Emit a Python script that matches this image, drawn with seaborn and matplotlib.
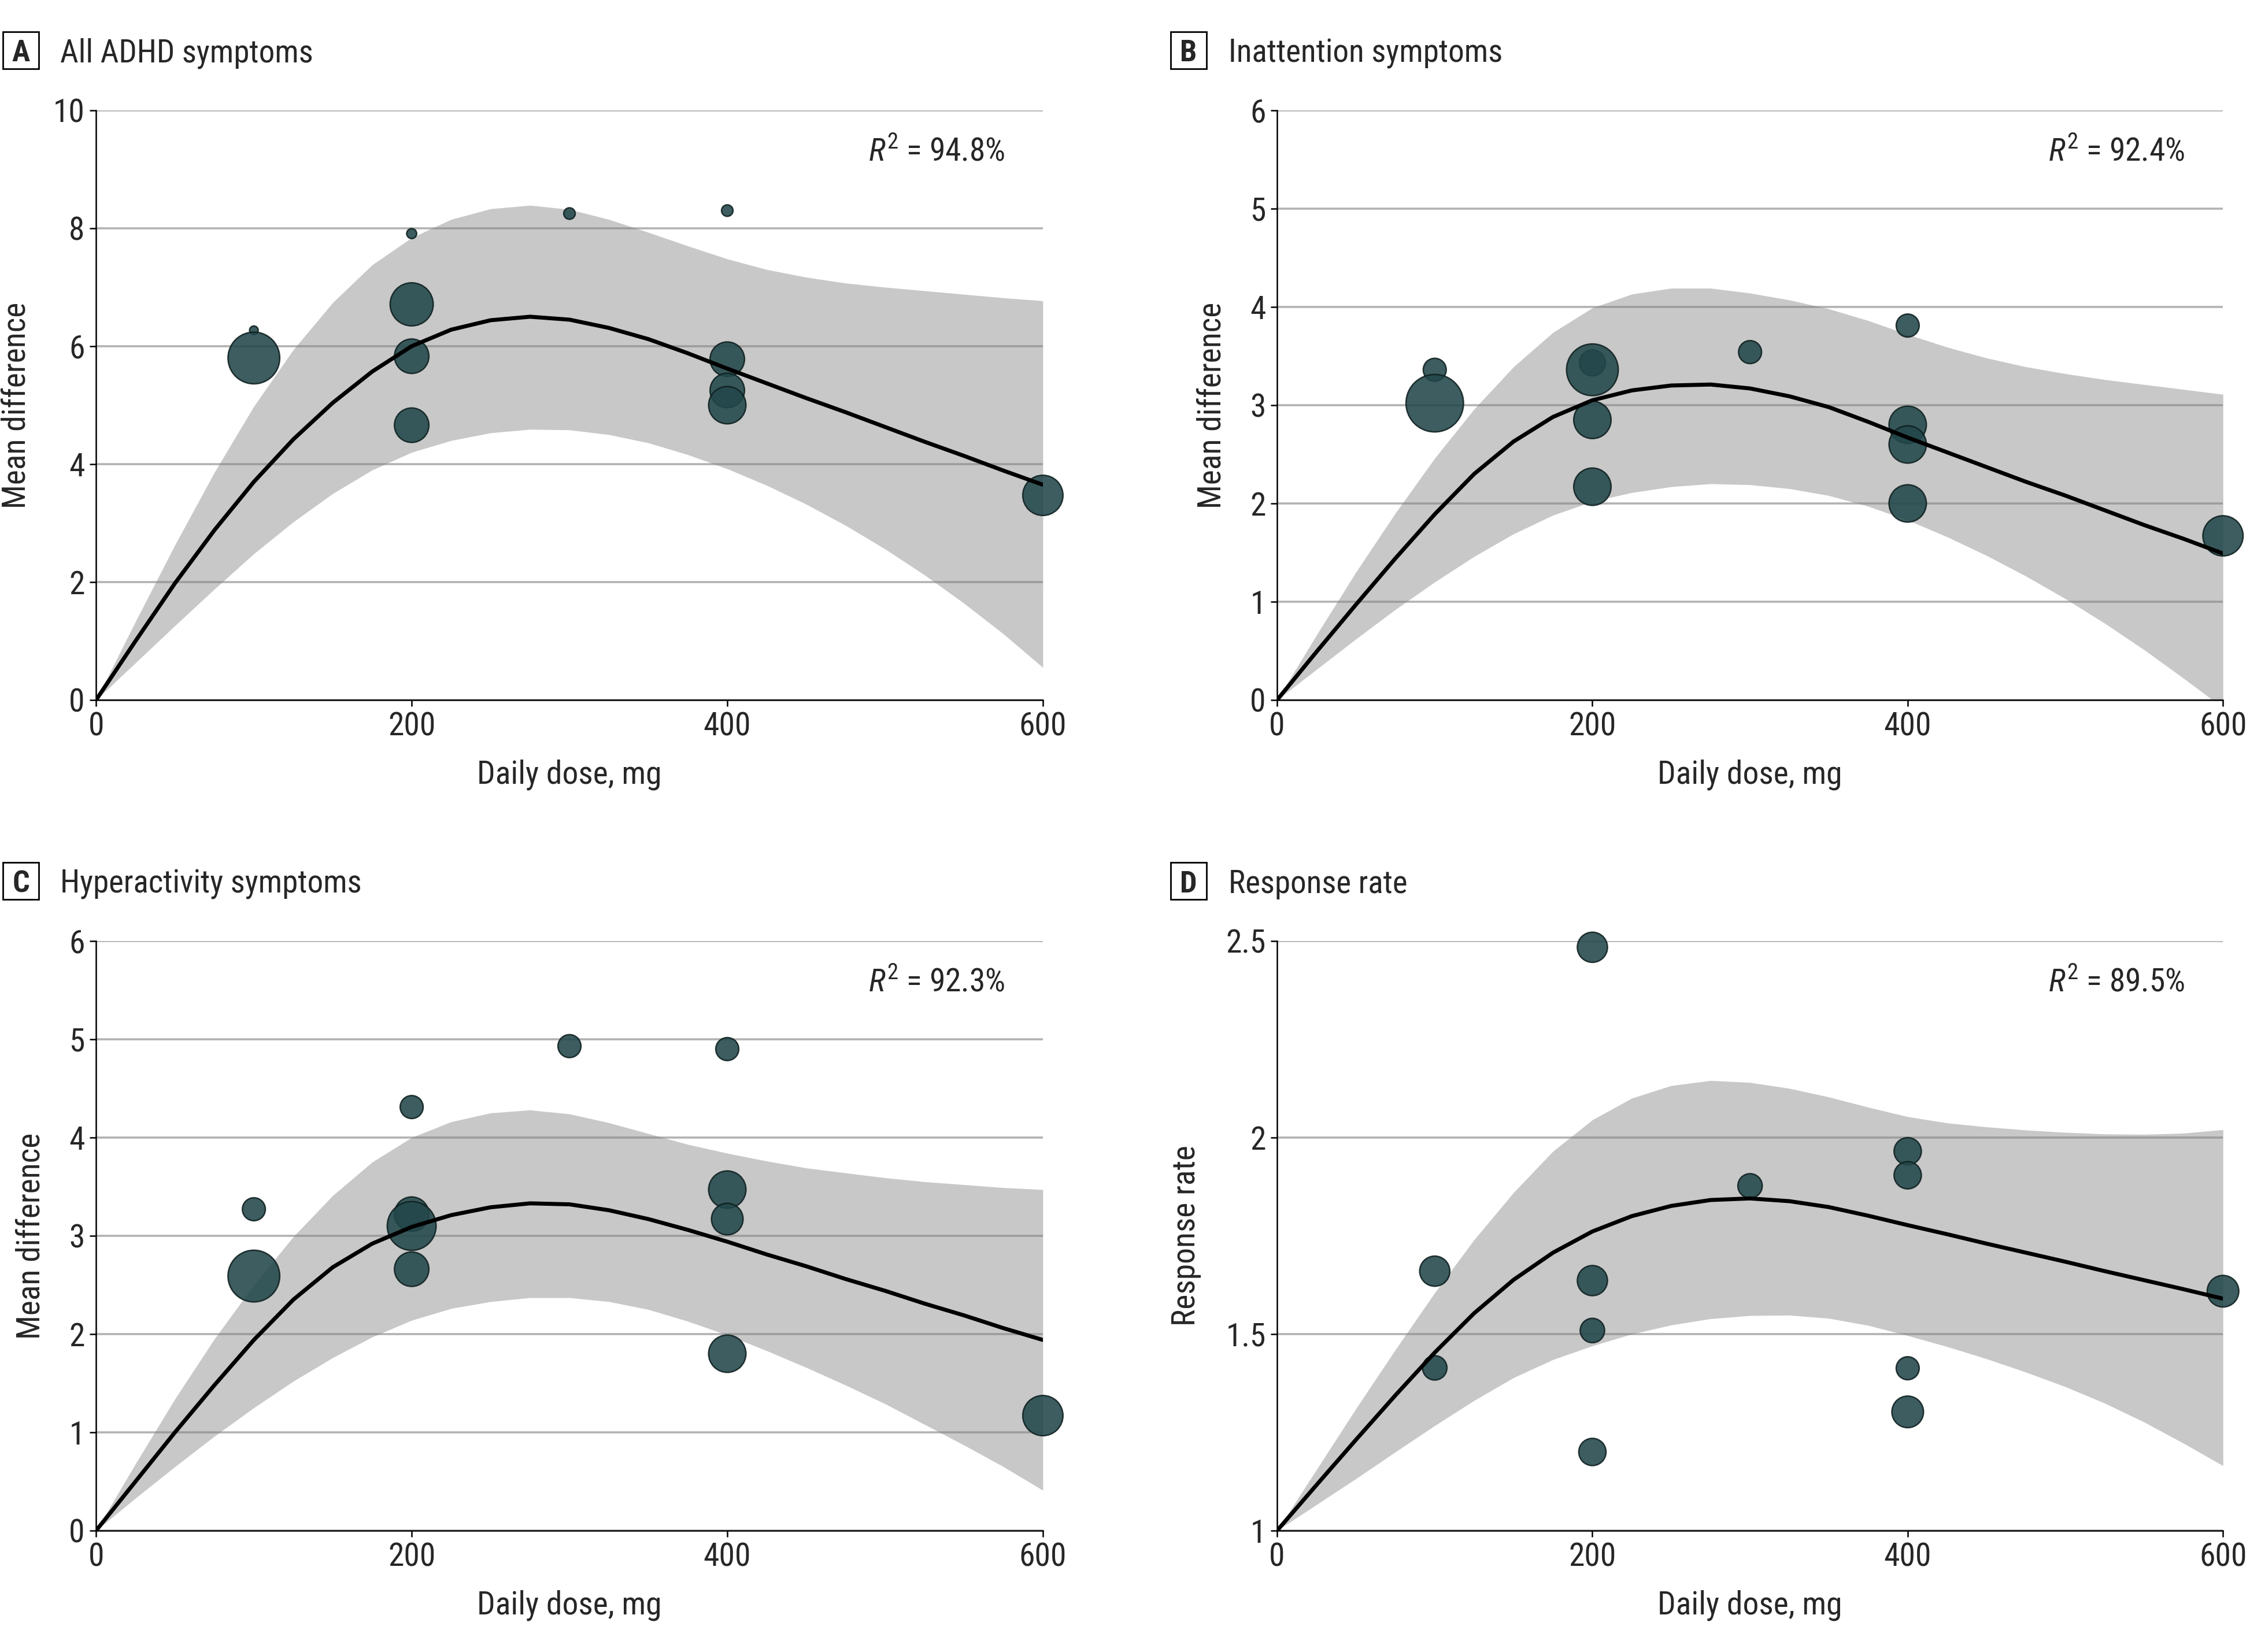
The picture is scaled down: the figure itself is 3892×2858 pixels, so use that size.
import matplotlib
matplotlib.use("Agg")
import matplotlib.pyplot as plt
from matplotlib import font_manager as fm
from matplotlib.patches import Rectangle
import pandas as pd
import seaborn as sns

# dose grid for the fitted curves (mg)
dose_grid = [0, 25, 50, 75, 100, 125, 150, 175, 200, 225, 250, 275, 300,
             325, 350, 375, 400, 425, 450, 475, 500, 525, 550, 575, 600]

# A: all ADHD symptoms
a_dose = [100, 100, 200, 200, 200, 200, 300, 400, 400, 400, 400, 600]
a_val = [6.27, 5.8, 7.91, 6.71, 5.83, 4.66, 8.25, 8.3, 5.78, 5.25, 5.0, 3.47]
a_wt = [9, 324, 12, 225, 144, 144, 16, 16, 144, 144, 169, 196]
a_fit = [0, 1.0, 1.98, 2.88, 3.7, 4.42, 5.04, 5.57, 6.0, 6.28, 6.44, 6.5, 6.45,
         6.31, 6.12, 5.88, 5.62, 5.37, 5.12, 4.88, 4.63, 4.38, 4.14, 3.89, 3.65]
a_hi = [0, 1.33, 2.63, 3.86, 4.98, 5.94, 6.74, 7.38, 7.84, 8.15, 8.33, 8.39, 8.32,
        8.15, 7.93, 7.7, 7.48, 7.3, 7.17, 7.07, 7.0, 6.94, 6.88, 6.82, 6.77]
a_lo = [0, 0.63, 1.26, 1.88, 2.48, 3.02, 3.5, 3.9, 4.2, 4.4, 4.53, 4.59, 4.58,
        4.5, 4.36, 4.16, 3.92, 3.64, 3.32, 2.96, 2.56, 2.12, 1.64, 1.12, 0.55]

# B: inattention symptoms
b_dose = [100, 100, 200, 200, 200, 200, 300, 400, 400, 400, 400, 600]
b_val = [3.36, 3.02, 3.43, 3.36, 2.85, 2.17, 3.54, 3.81, 2.8, 2.6, 2.0, 1.67]
b_wt = [64, 400, 81, 324, 169, 169, 64, 64, 169, 169, 169, 196]
b_fit = [0, 0.49, 0.97, 1.44, 1.89, 2.3, 2.63, 2.88, 3.05, 3.15, 3.2, 3.21, 3.17,
         3.09, 2.98, 2.83, 2.67, 2.52, 2.37, 2.22, 2.08, 1.93, 1.78, 1.64, 1.49]
b_hi = [0, 0.66, 1.3, 1.9, 2.46, 2.96, 3.39, 3.74, 3.99, 4.13, 4.19, 4.19, 4.14,
        4.07, 3.98, 3.86, 3.72, 3.59, 3.48, 3.39, 3.32, 3.26, 3.21, 3.16, 3.11]
b_lo = [0, 0.31, 0.62, 0.92, 1.2, 1.46, 1.69, 1.88, 2.02, 2.11, 2.17, 2.2, 2.19,
        2.15, 2.08, 1.97, 1.83, 1.66, 1.47, 1.26, 1.03, 0.78, 0.51, 0.22, -0.08]

# C: hyperactivity symptoms
c_dose = [100, 100, 200, 200, 200, 200, 300, 400, 400, 400, 400, 600]
c_val = [3.27, 2.59, 4.31, 3.22, 3.1, 2.66, 4.93, 4.9, 3.47, 3.17, 1.8, 1.17]
c_wt = [64, 324, 64, 144, 289, 144, 64, 64, 169, 121, 169, 196]
c_fit = [0, 0.5, 1.0, 1.48, 1.94, 2.35, 2.68, 2.92, 3.09, 3.21, 3.29, 3.33, 3.32,
         3.26, 3.17, 3.06, 2.94, 2.81, 2.69, 2.56, 2.44, 2.31, 2.19, 2.06, 1.94]
c_hi = [0, 0.68, 1.34, 1.95, 2.5, 2.99, 3.41, 3.75, 4.0, 4.16, 4.25, 4.28, 4.24,
        4.15, 4.04, 3.93, 3.84, 3.76, 3.69, 3.64, 3.59, 3.55, 3.52, 3.49, 3.47]
c_lo = [0, 0.33, 0.65, 0.96, 1.25, 1.52, 1.76, 1.97, 2.14, 2.26, 2.33, 2.37, 2.37,
        2.33, 2.25, 2.13, 1.99, 1.83, 1.66, 1.48, 1.29, 1.08, 0.87, 0.65, 0.41]

# D: response rate
d_dose = [100, 100, 200, 200, 200, 200, 300, 400, 400, 400, 400, 600]
d_val = [1.66, 1.414, 2.484, 1.636, 1.509, 1.2, 1.877, 1.965, 1.904, 1.413, 1.302, 1.609]
d_wt = [110, 72, 110, 110, 72, 90, 72, 90, 90, 64, 121, 121]
d_fit = [1.0, 1.116, 1.231, 1.344, 1.453, 1.553, 1.638, 1.707, 1.761, 1.8, 1.826, 1.841, 1.845,
         1.838, 1.823, 1.801, 1.777, 1.754, 1.73, 1.707, 1.684, 1.66, 1.637, 1.614, 1.59]
d_hi = [1.0, 1.155, 1.31, 1.46, 1.605, 1.74, 1.86, 1.965, 2.045, 2.1, 2.132, 2.145, 2.14,
        2.125, 2.103, 2.077, 2.053, 2.037, 2.027, 2.019, 2.013, 2.009, 2.008, 2.011, 2.02]
d_lo = [1.0, 1.066, 1.132, 1.2, 1.267, 1.331, 1.389, 1.435, 1.47, 1.5, 1.523, 1.539, 1.547,
        1.548, 1.54, 1.522, 1.496, 1.468, 1.437, 1.403, 1.366, 1.324, 1.276, 1.222, 1.165]

panels = [
    ("A", "All ADHD symptoms", "Mean difference", "94.8%", a_dose, a_val, a_wt, a_fit, a_hi, a_lo,
     (0, 10), [0, 2, 4, 6, 8, 10], ["0", "2", "4", "6", "8", "10"]),
    ("B", "Inattention symptoms", "Mean difference", "92.4%", b_dose, b_val, b_wt, b_fit, b_hi, b_lo,
     (0, 6), [0, 1, 2, 3, 4, 5, 6], ["0", "1", "2", "3", "4", "5", "6"]),
    ("C", "Hyperactivity symptoms", "Mean difference", "92.3%", c_dose, c_val, c_wt, c_fit, c_hi, c_lo,
     (0, 6), [0, 1, 2, 3, 4, 5, 6], ["0", "1", "2", "3", "4", "5", "6"]),
    ("D", "Response rate", "Response rate", "89.5%", d_dose, d_val, d_wt, d_fit, d_hi, d_lo,
     (1, 2.5), [1, 1.5, 2, 2.5], ["1", "1.5", "2", "2.5"]),
]


def pick_font():
    # prefer a narrow sans if one is installed, else Lato
    entries = fm.fontManager.ttflist
    names = {f.name for f in entries}
    for name in ["Liberation Sans Narrow", "Roboto Condensed", "Open Sans Condensed",
                 "Noto Sans Condensed"]:
        if name in names:
            return name, "normal"
    if any(f.name == "Noto Sans" and f.stretch == "condensed" for f in entries):
        return "Noto Sans", "condensed"
    return "Lato", "normal"


sns.set_theme(style="white")
FONT, STRETCH = pick_font()
plt.rcParams["font.family"] = [FONT, "DejaVu Sans"]
plt.rcParams["font.stretch"] = STRETCH
plt.rcParams["mathtext.fontset"] = "custom"
plt.rcParams["mathtext.rm"] = FONT
plt.rcParams["mathtext.it"] = FONT + ":italic"

fig = plt.figure(figsize=(19.46, 14.29), dpi=200)

rects = [
    [0.0427, 0.5763, 0.4208, 0.3569],
    [0.5676, 0.5763, 0.4204, 0.3569],
    [0.0427, 0.0735, 0.4208, 0.3569],
    [0.5676, 0.0735, 0.4204, 0.3569],
]
label_pos = [(0.0093, 0.9696, 0.0267), (0.5283, 0.9696, 0.5460),
             (0.0093, 0.4667, 0.0267), (0.5283, 0.4667, 0.5460)]
ylabel_x = [-0.068, -0.053, -0.053, -0.080]

TICK_FS = 20
TITLE_FS = 19.8
MARKER = "#22474a"
for i, (letter, title, ylab, r2, dose, val, wt, fit, hi, lo, ylim, yticks, ylabels) in enumerate(panels):
    ax = fig.add_axes(rects[i])
    ax.set_axisbelow("line")

    ax.fill_between(dose_grid, lo, hi, color="#c8c8c8", linewidth=0, zorder=1)
    sns.lineplot(x=dose_grid, y=fit, ax=ax, color="black", linewidth=2.5, zorder=5)
    df = pd.DataFrame({"dose": dose, "val": val, "wt": wt})
    sns.scatterplot(data=df, x="dose", y="val", size="wt", sizes=(0, 400 * 3.2),
                    size_norm=(0, 400), color=MARKER, edgecolor="#0f1f1f",
                    linewidth=0.9, alpha=0.88, legend=False, ax=ax, zorder=4,
                    clip_on=False)

    ax.set_xlim(0, 600)
    ax.set_ylim(*ylim)
    ax.set_xticks([0, 200, 400, 600])
    ax.set_xticklabels(["0", "200", "400", "600"])
    ax.set_yticks(yticks)
    ax.set_yticklabels(ylabels)
    ax.yaxis.grid(True, color="#808080", alpha=0.6, linewidth=1.3)
    ax.xaxis.grid(False)
    ax.tick_params(axis="both", which="major", direction="out", length=4, width=0.9,
                   color="black", labelsize=TICK_FS, pad=3, left=True, bottom=True)
    for side in ["top", "right"]:
        ax.spines[side].set_visible(False)
    for side in ["left", "bottom"]:
        ax.spines[side].set_color("black")
        ax.spines[side].set_linewidth(0.9)
        ax.spines[side].set_zorder(6)

    ax.set_xlabel("Daily dose, mg", fontsize=TICK_FS, labelpad=11)
    ax.set_ylabel(ylab, fontsize=TICK_FS)
    ax.yaxis.set_label_coords(ylabel_x[i], 0.5)
    ax.text(0.96, 0.93, r"$\mathit{R}^{2}$" + " = " + r2, transform=ax.transAxes,
            ha="right", va="center", fontsize=TICK_FS)

    bx, by, tx = label_pos[i]
    fig.patches.append(Rectangle((bx - 0.0080, by - 0.0112), 0.0160, 0.0224,
                                 transform=fig.transFigure, facecolor="white",
                                 edgecolor="black", linewidth=1.0))
    fig.text(bx, by, letter, fontsize=TITLE_FS - 1, fontweight="bold", ha="center",
             va="center_baseline")
    fig.text(tx, by, title, fontsize=TITLE_FS, ha="left", va="center_baseline")

fig.savefig("out.png", dpi=200)
